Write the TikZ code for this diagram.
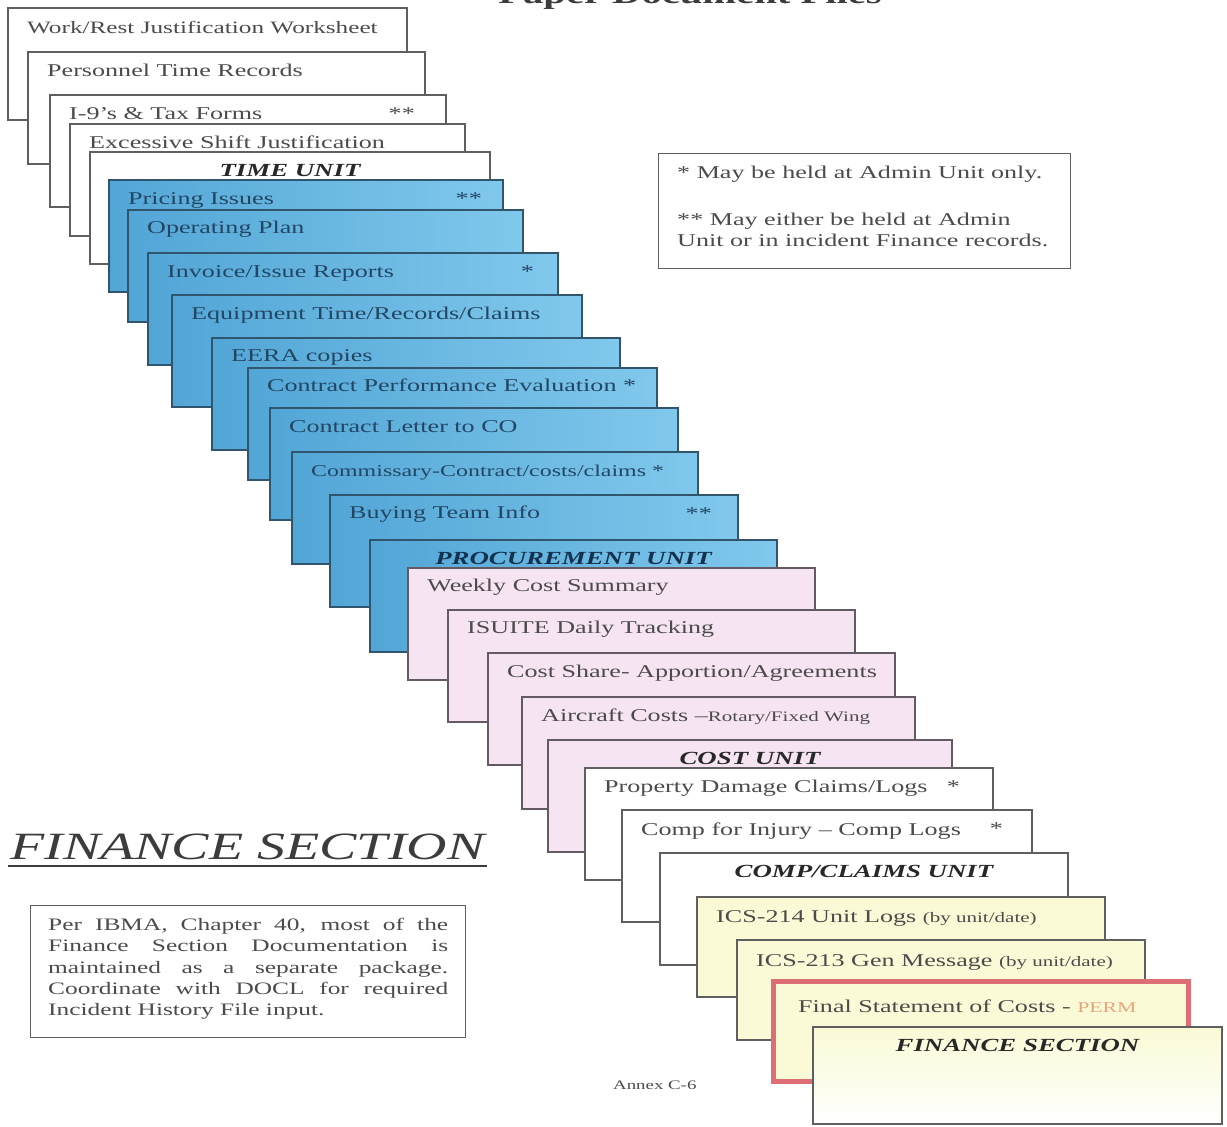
\documentclass[tikz,border=0pt]{standalone}
\usepackage{fontspec}
\setmainfont{Liberation Serif}[FakeStretch=1.45]
\definecolor{cardedge}{RGB}{95,95,95}
\definecolor{blueedge}{RGB}{50,85,110}
\definecolor{blueL}{RGB}{82,166,214}
\definecolor{blueR}{RGB}{128,200,236}
\definecolor{pinkfill}{RGB}{247,228,243}
\definecolor{pinkedge}{RGB}{100,90,100}
\definecolor{yellowfill}{RGB}{250,250,214}
\definecolor{rededge}{RGB}{222,110,118}
\definecolor{txtgrey}{RGB}{75,75,75}
\definecolor{bluetxt}{RGB}{35,70,100}
\definecolor{unitgrey}{RGB}{40,40,40}
\definecolor{unitblue}{RGB}{20,50,80}
\definecolor{permcol}{RGB}{232,165,125}
\definecolor{headgrey}{RGB}{60,60,60}
\tikzset{
  cardbase/.style={rectangle, inner sep=0pt, outer sep=0pt, anchor=north west, line width=1.1pt},
  whitecard/.style={cardbase, draw=cardedge, fill=white},
  bluecard/.style={cardbase, draw=blueedge, left color=blueL, right color=blueR},
  pinkcard/.style={cardbase, draw=pinkedge, fill=pinkfill},
  yellowcard/.style={cardbase, draw=cardedge, fill=yellowfill},
  redcard/.style={cardbase, draw=rededge, line width=5pt, fill=yellowfill},
  lastcard/.style={cardbase, draw=cardedge, top color=yellowfill, bottom color=white},
  cardtext/.style={inner sep=0pt, font=\fontsize{18}{20}\selectfont, text=txtgrey},
  bluetext/.style={cardtext, text=bluetxt},
  unittext/.style={inner sep=0pt, font=\fontsize{18.5}{20}\selectfont\bfseries\itshape, text=unitgrey},
  blueunit/.style={unittext, text=unitblue},
  boxstyle/.style={rectangle, draw=cardedge, line width=1pt, inner sep=0pt, outer sep=0pt, anchor=north west},
  plaintext/.style={inner sep=0pt, text=txtgrey},
}
% name, style, left, top, right, height
\newcommand\docard[6]{\node[#2, minimum width={(#5-#3)*1pt}, minimum height={#6*1pt}] (#1) at (#3,#4) {};}
% name, style, yoffset, text
\newcommand\cardlabel[4]{\node[#2, anchor=mid west] (#1t) at ([shift={(19pt,-#3pt)}]#1.north west) {#4};}
% name, style, right offset, stars
\newcommand\cardstar[4]{\node[#2, anchor=mid east] (#1s) at ([shift={(-#3pt,-22pt)}]#1.north east) {#4};}
% name, style, text
\newcommand\cardunit[3]{\node[#2, anchor=mid] (#1t) at ([yshift=-22pt]#1.north) {#3};}
\begin{document}
\begin{tikzpicture}[x=1pt, y=-1pt]
\useasboundingbox[fill=white] (0,0) rectangle (1227,1127);

% title (cut off at top)
\node[inner sep=0pt, anchor=base, font=\fontsize{28}{30}\selectfont\bfseries, text=headgrey] (title) at (690,3) {Paper Document Files};

% TIME UNIT
\docard{c1}{whitecard}{8}{8}{407}{112}
\cardlabel{c1}{cardtext, font=\fontsize{17.4}{20}\selectfont}{23}{Work/Rest Justification Worksheet}
\docard{c2}{whitecard}{28}{52}{425}{112}
\cardlabel{c2}{cardtext}{22}{Personnel Time Records}
\docard{c3}{whitecard}{50}{95}{446}{112}
\cardlabel{c3}{cardtext}{22}{I-9’s \& Tax Forms}
\cardstar{c3}{cardtext}{31}{**}
\docard{c4}{whitecard}{70}{124}{465}{112}
\cardlabel{c4}{cardtext}{22}{Excessive Shift Justification}
\docard{c5}{whitecard}{90}{152}{490}{112}
\cardunit{c5}{unittext}{TIME UNIT}

% PROCUREMENT UNIT
\docard{c6}{bluecard}{109}{180}{503}{112}
\cardlabel{c6}{bluetext}{22}{Pricing Issues}
\cardstar{c6}{bluetext}{21}{**}
\docard{c7}{bluecard}{128}{210}{523}{112}
\cardlabel{c7}{bluetext}{21}{Operating Plan}
\docard{c8}{bluecard}{148}{253}{558}{112}
\cardlabel{c8}{bluetext}{22}{Invoice/Issue Reports}
\cardstar{c8}{bluetext}{24}{*}
\docard{c9}{bluecard}{172}{295}{582}{112}
\cardlabel{c9}{bluetext}{22}{Equipment Time/Records/Claims}
\docard{c10}{bluecard}{212}{338}{620}{112}
\cardlabel{c10}{bluetext}{21}{EERA copies}
\docard{c11}{bluecard}{248}{368}{657}{112}
\cardlabel{c11}{bluetext}{21}{Contract Performance Evaluation *}
\docard{c12}{bluecard}{270}{408}{678}{112}
\cardlabel{c12}{bluetext}{22}{Contract Letter to CO}
\docard{c13}{bluecard}{292}{452}{698}{112}
\cardlabel{c13}{bluetext, font=\fontsize{16.5}{20}\selectfont}{22}{Commissary-Contract/costs/claims *}
\docard{c14}{bluecard}{330}{495}{738}{112}
\cardlabel{c14}{bluetext}{21}{Buying Team Info}
\cardstar{c14}{bluetext}{26}{**}
\docard{c15}{bluecard}{370}{540}{777}{112}
\cardunit{c15}{blueunit}{PROCUREMENT UNIT}

% COST UNIT
\docard{c16}{pinkcard}{408}{568}{815}{112}
\cardlabel{c16}{cardtext}{21}{Weekly Cost Summary}
\docard{c17}{pinkcard}{448}{610}{855}{112}
\cardlabel{c17}{cardtext}{21}{ISUITE Daily Tracking}
\docard{c18}{pinkcard}{488}{653}{895}{112}
\cardlabel{c18}{cardtext}{22}{Cost Share- Apportion/Agreements}
\docard{c19}{pinkcard}{522}{697}{915}{112}
\cardlabel{c19}{cardtext}{22}{Aircraft Costs –{\fontsize{14.5}{16}\selectfont Rotary/Fixed Wing}}
\docard{c20}{pinkcard}{548}{740}{952}{112}
\cardunit{c20}{unittext}{COST UNIT}

% COMP/CLAIMS UNIT
\docard{c21}{whitecard}{585}{768}{993}{112}
\cardlabel{c21}{cardtext}{22}{Property Damage Claims/Logs}
\cardstar{c21}{cardtext}{33}{*}
\docard{c22}{whitecard}{622}{810}{1032}{112}
\cardlabel{c22}{cardtext}{23}{Comp for Injury – Comp Logs}
\cardstar{c22}{cardtext}{29}{*}
\docard{c23}{whitecard}{660}{853}{1068}{112}
\cardunit{c23}{unittext}{COMP/CLAIMS UNIT}

% FINANCE SECTION
\docard{c24}{yellowcard}{697}{897}{1105}{100}
\cardlabel{c24}{cardtext}{23}{ICS-214 Unit Logs {\fontsize{14.5}{16}\selectfont(by unit/date)}}
\docard{c25}{yellowcard}{737}{940}{1145}{100}
\cardlabel{c25}{cardtext}{24}{ICS-213 Gen Message {\fontsize{14.5}{16}\selectfont(by unit/date)}}
\docard{c26}{redcard}{773}{981}{1188}{100}
\node[cardtext, anchor=mid west] (c26t) at ([shift={(25pt,-29pt)}]c26.north west) {Final Statement of Costs - {\fontsize{15}{16}\selectfont\color{permcol}PERM}};
\docard{c27}{lastcard}{813}{1027}{1222}{97}
\cardunit{c27}{unittext}{FINANCE SECTION}

% legend
\node[boxstyle, minimum width=412pt, minimum height=115pt] (legend) at (658,153) {};
\node[plaintext, anchor=base west, font=\fontsize{18}{20}\selectfont] (leg1) at (677,178) {* May be held at Admin Unit only.};
\node[plaintext, anchor=base west, font=\fontsize{18}{20}\selectfont] (leg2) at (677,225) {** May either be held at Admin};
\node[plaintext, anchor=base west, font=\fontsize{18}{20}\selectfont] (leg3) at (677,246) {Unit or in incident Finance records.};

% heading
\node[inner sep=0pt, anchor=base west, font=\fontsize{38.6}{40}\selectfont\itshape, text=headgrey] (head) at (10,859) {FINANCE SECTION};
\draw[line width=2.6pt, headgrey] ([shift={(-2pt,-7pt)}]head.base west) -- ([shift={(2pt,-7pt)}]head.base east);

% note
\node[boxstyle, minimum width=435pt, minimum height=132pt] (note) at (30,905) {};
\node[plaintext, anchor=north west, text width=400pt, align=justify, font=\fontsize{17.5}{21.3}\selectfont] (notetext) at (48,918) {Per IBMA, Chapter 40, most of the\linebreak Finance Section Documentation is\linebreak maintained as a separate package.\linebreak Coordinate with DOCL for required\linebreak Incident History File input.};

% annex
\node[plaintext, anchor=base west, font=\fontsize{13}{14}\selectfont] (annex) at (613,1089) {Annex C-6};
\end{tikzpicture}
\end{document}
